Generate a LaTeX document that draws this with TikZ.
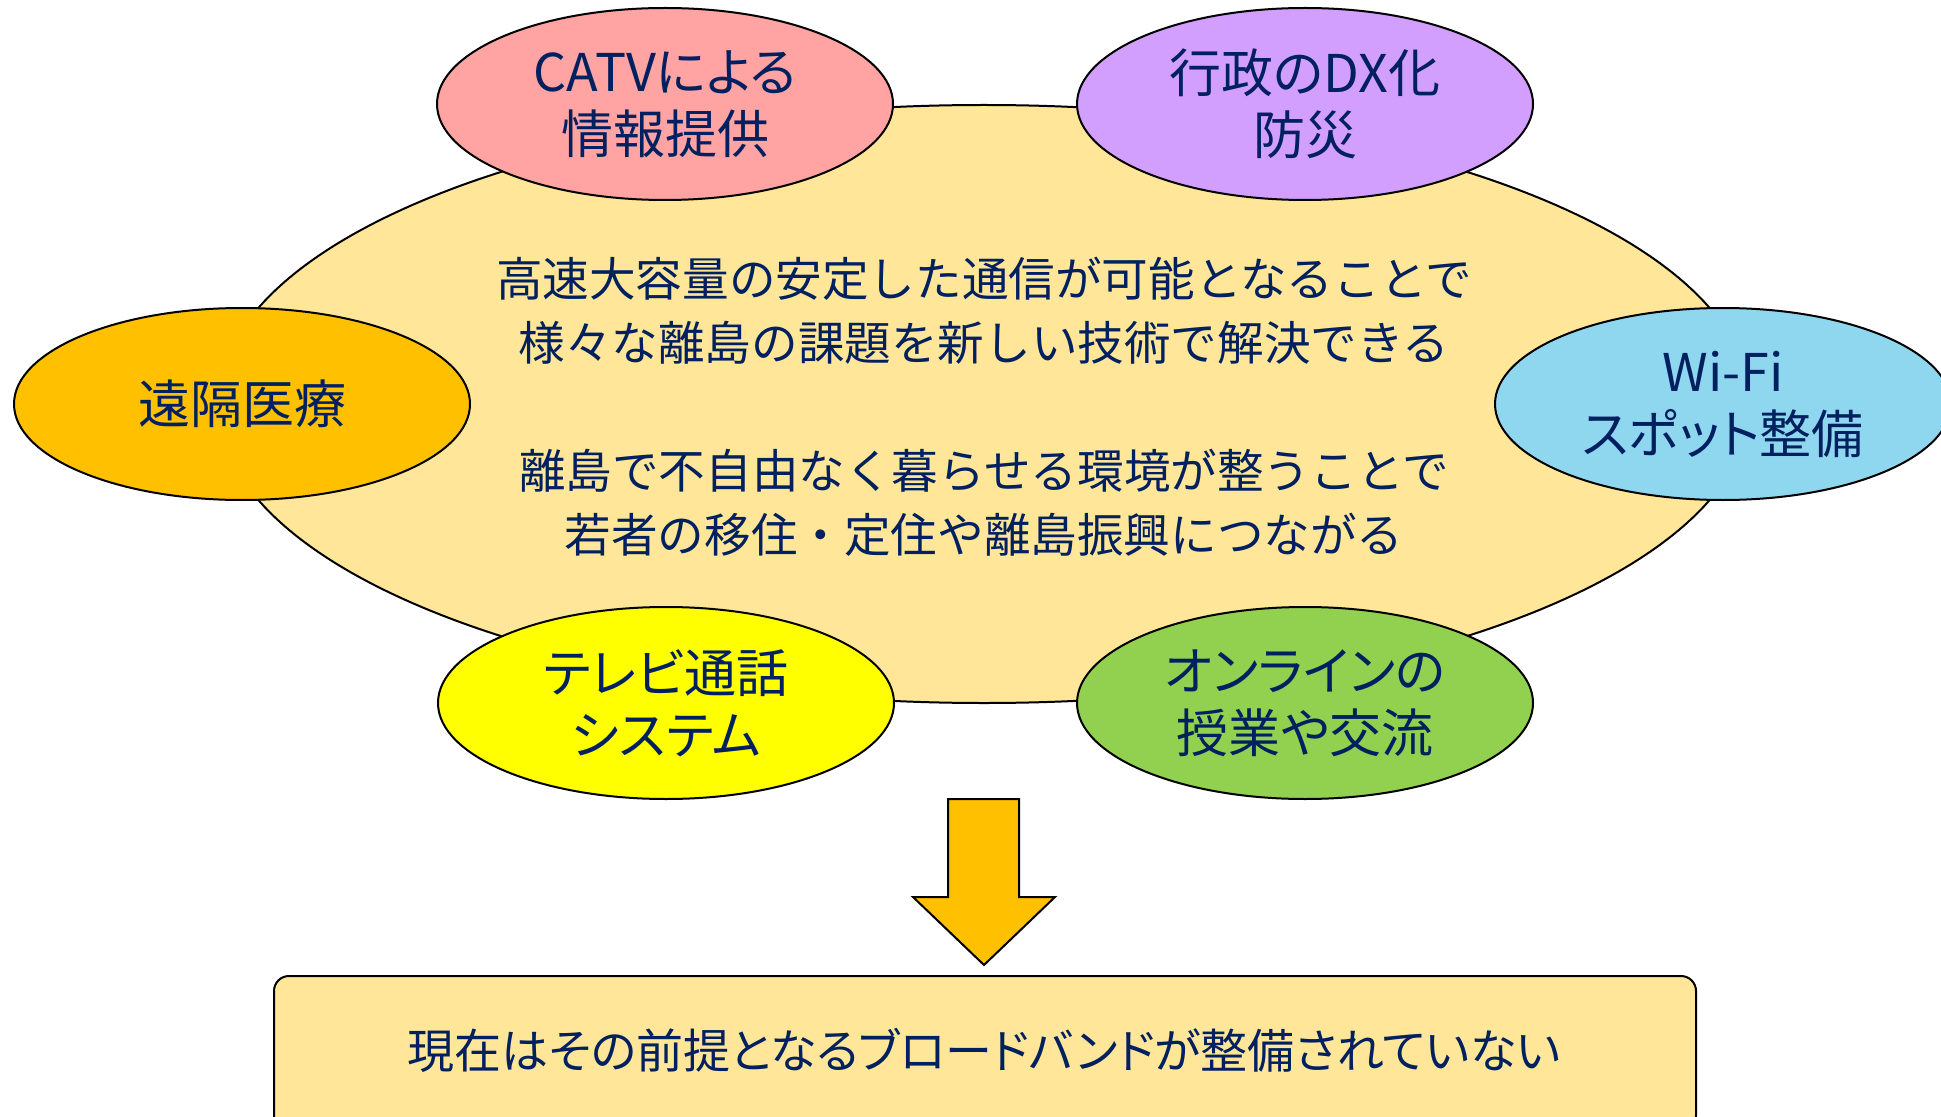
\documentclass[tikz,border=0pt]{standalone}
\usepackage{fontspec}
\setmainfont{Noto Sans CJK JP}
\newfontfamily\propjp[RawFeature=+palt]{Noto Sans CJK JP}
\usetikzlibrary{shapes.geometric}
\definecolor{navy}{HTML}{002060}
\definecolor{bigfill}{HTML}{FFE699}
\definecolor{catv}{HTML}{FFA3A3}
\definecolor{gyosei}{HTML}{D39FFF}
\definecolor{enkaku}{HTML}{FFC000}
\definecolor{wifi}{HTML}{8FD7EF}
\definecolor{tv}{HTML}{FFFF00}
\definecolor{online}{HTML}{92D050}
\tikzset{
  bubble/.style={ellipse, draw=black, line width=1pt, inner sep=0pt,
    minimum width=228pt, minimum height=96pt, align=center, text=navy,
    font=\propjp\fontsize{26}{31}\selectfont},
  bigoval/.style={ellipse, draw=black, line width=1pt, fill=bigfill, inner sep=0pt,
    minimum width=766pt, minimum height=299pt},
  basebox/.style={rectangle, rounded corners=7.5pt, draw=black, line width=1pt, fill=bigfill,
    minimum width=711pt, minimum height=77pt, inner sep=0pt},
  maintext/.style={align=center, text=navy, font=\fontsize{23.3}{32}\selectfont}
}
\begin{document}
\begin{tikzpicture}[x=0.5pt, y=-0.5pt]
\useasboundingbox (0,0) rectangle (1941,1117);
\node[bigoval] (big) at (984,404) {};
\node[maintext] (center) at (984,407) {高速大容量の安定した通信が可能となることで\\様々な離島の課題を新しい技術で解決できる\\[32pt]離島で不自由なく暮らせる環境が整うことで\\若者の移住・定住や離島振興につながる};
\node[bubble, fill=catv] (catv) at (665,104) {CATVによる\\情報提供};
\node[bubble, fill=gyosei] (gyosei) at (1305,104) {行政のDX化\\防災};
\node[bubble, fill=enkaku] (enkaku) at (242,404) {遠隔医療};
\node[bubble, fill=wifi] (wifi) at (1723,404) {Wi-Fi\\スポット整備};
\node[bubble, fill=tv] (tv) at (666,703) {テレビ通話\\システム};
\node[bubble, fill=online] (online) at (1305,703) {オンラインの\\授業や交流};
\draw[line width=1pt, fill=enkaku, line join=miter]
  (948,799) -- (1019,799) -- (1019,897) -- (1055,897) -- (984,965) -- (913,897) -- (948,897) -- cycle;
\node[basebox] (base) at (985,1053) {};
\node[maintext, font=\propjp\fontsize{23.5}{28}\selectfont] (basetext) at (984,1050) {現在はその前提となるブロードバンドが整備されていない};
\end{tikzpicture}
\end{document}
